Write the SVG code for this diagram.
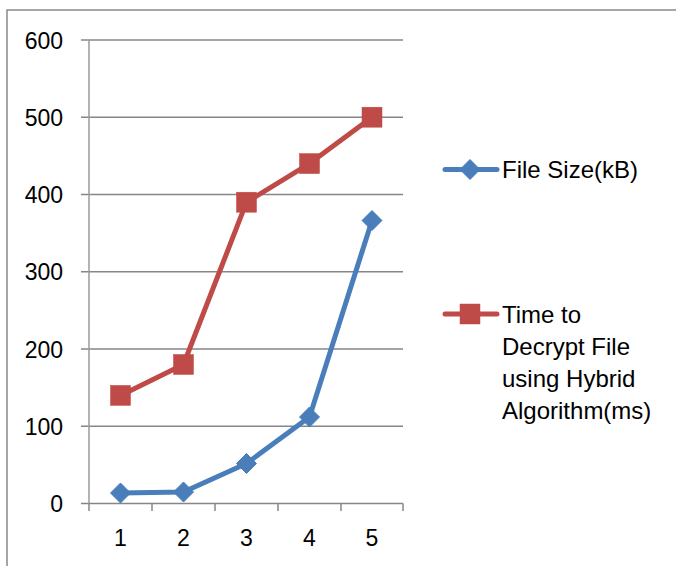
<svg xmlns="http://www.w3.org/2000/svg" width="676" height="566" viewBox="0 0 676 566">
<defs>
<style>
.frame{fill:none;stroke:#898989;stroke-width:1.5}
.grid{stroke:#868686;stroke-width:1.5;fill:none}
.axis{stroke:#9a9a9a;stroke-width:1.5;fill:none}
.lbl{font-family:"Liberation Sans",Arial,sans-serif;font-size:23px;fill:#000}
.leg{font-family:"Liberation Sans",Arial,sans-serif;font-size:24px;fill:#000}
.blue{stroke:#4A7EBB;stroke-width:5;fill:none;stroke-linejoin:round;stroke-linecap:round}
.red{stroke:#BE4B48;stroke-width:5;fill:none;stroke-linejoin:round;stroke-linecap:round}
</style>
<path id="dia" d="M0,-10 L10,0 L0,10 L-10,0 Z" fill="#4A7EBB" stroke="#4A7EBB" stroke-width="1" stroke-linejoin="round"/>
<rect id="sq" x="-10" y="-10" width="20" height="20" fill="#BE4B48" stroke="#BE4B48" stroke-width="0.5"/>
</defs>
<rect width="676" height="566" fill="#fff"/>
<path class="frame" d="M7,566 V10 H676"/>
<g id="grid">
<path class="grid" d="M81,40 H403 M81,117.2 H403 M81,194.5 H403 M81,271.7 H403 M81,349 H403 M81,426.2 H403 M81,503.5 H403"/>
<path class="axis" d="M89,40 V503.5"/>
<path class="grid" d="M89,503.5 V511 M152,503.5 V511 M215,503.5 V511 M278,503.5 V511 M341,503.5 V511 M403,503.5 V511"/>
</g>
<g id="y-labels" class="lbl" text-anchor="end">
<text x="63" y="48.5">600</text>
<text x="63" y="125.5">500</text>
<text x="63" y="203">400</text>
<text x="63" y="280">300</text>
<text x="63" y="357.5">200</text>
<text x="63" y="434.5">100</text>
<text x="63" y="512">0</text>
</g>
<g id="x-labels" class="lbl" text-anchor="middle">
<text x="120.5" y="546">1</text>
<text x="183.5" y="546">2</text>
<text x="246.5" y="546">3</text>
<text x="309.5" y="546">4</text>
<text x="372" y="546">5</text>
</g>
<g id="connectors">
<polyline class="red" points="120.5,395.4 183.5,364.5 246.5,202.2 309.5,163.6 372,117.2"/>
<polyline class="blue" points="120.5,493 183.5,492 246.5,463.5 309.5,417 372,220.5"/>
</g>
<g id="series-time">
<use href="#sq" x="120.5" y="395.4"/>
<use href="#sq" x="183.5" y="364.5"/>
<use href="#sq" x="246.5" y="202.2"/>
<use href="#sq" x="309.5" y="163.6"/>
<use href="#sq" x="372" y="117.2"/>
</g>
<g id="series-size">
<use href="#dia" x="120.5" y="493"/>
<use href="#dia" x="183.5" y="492"/>
<use href="#dia" x="246.5" y="463.5"/>
<use href="#dia" x="309.5" y="417"/>
<use href="#dia" x="372" y="220.5"/>
</g>
<g id="legend-size">
<line class="blue" x1="445" y1="169.5" x2="497" y2="169.5"/>
<use href="#dia" x="470" y="169.5"/>
<text class="leg" x="502" y="177.5">File Size(kB)</text>
</g>
<g id="legend-time">
<line class="red" x1="445" y1="314" x2="497" y2="314"/>
<use href="#sq" x="470" y="314"/>
<text class="leg" x="502" y="322.5">Time to</text>
<text class="leg" x="502" y="354.5">Decrypt File</text>
<text class="leg" x="502" y="386.5">using Hybrid</text>
<text class="leg" x="502" y="418.5">Algorithm(ms)</text>
</g>
</svg>
